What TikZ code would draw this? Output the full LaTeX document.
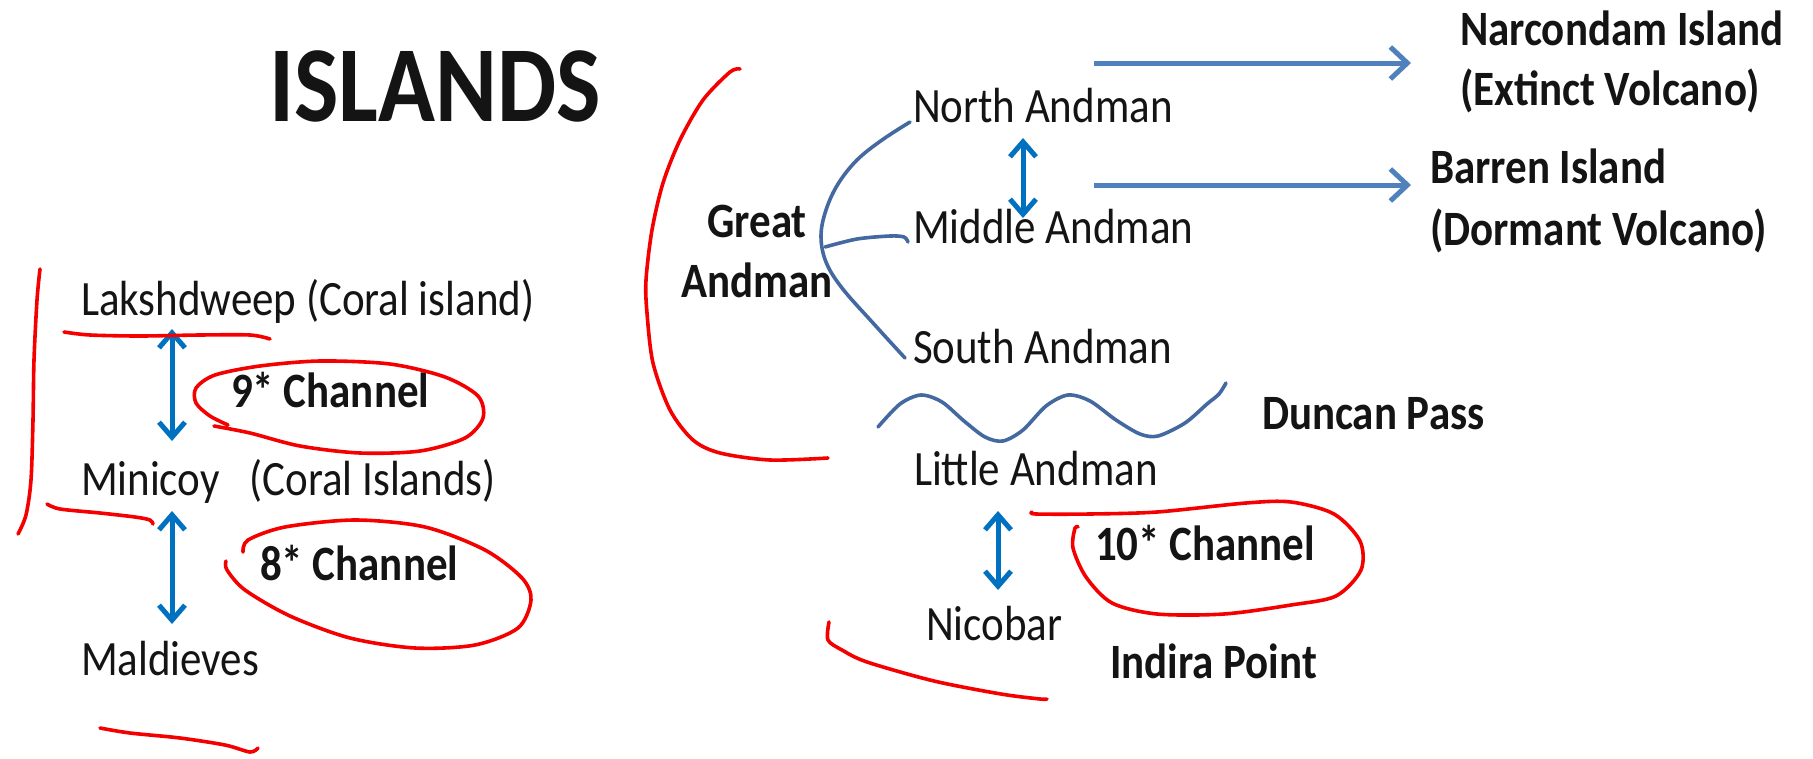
\documentclass[tikz,border=0pt]{standalone}
\usepackage{fontspec}
\setmainfont{Carlito}[FakeStretch=0.87]
\usetikzlibrary{arrows.meta}
\definecolor{arrblue}{RGB}{0,112,192}
\definecolor{treeblue}{RGB}{68,104,160}
\definecolor{volblue}{RGB}{79,129,189}
\definecolor{inkred}{RGB}{245,0,0}
\definecolor{txt}{RGB}{20,20,20}
\begin{document}
\begin{tikzpicture}[x=1pt,y=-1pt,
  lbl/.style={anchor=base west, inner sep=0pt, outer sep=0pt, text=txt, font=\fontsize{49.4}{60}\selectfont},
  blbl/.style={lbl, font=\fontsize{49.4}{61}\selectfont\bfseries},
  dbl/.style={draw=arrblue, line width=5pt, line join=miter, {Straight Barb[length=15pt,width=26pt]}-{Straight Barb[length=15pt,width=26pt]}},
  volarr/.style={draw=volblue, line width=5pt, -{Straight Barb[length=17pt,width=32pt]}},
  tree/.style={draw=treeblue, line width=3.6pt, line cap=round},
  ink/.style={draw=inkred, line width=3.6pt, line cap=round, line join=round}]
\fill[white] (0,0) rectangle (1813,758);
\useasboundingbox (0,0) rectangle (1813,758);

% title
\node[lbl, font=\fontsize{108}{120}\selectfont\bfseries] (title) at (269,121) {ISLANDS};

% left column
\node[lbl] (lak) at (81,315) {Lakshdweep (Coral island)};
\node[blbl] (ch9) at (231,407) {9* Channel};
\node[lbl] (min) at (81,495) {Minicoy\hspace{30pt}(Coral Islands)};
\node[blbl] (ch8) at (260,580) {8* Channel};
\node[lbl] (mal) at (81,675) {Maldieves};

\coordinate (a1t) at (172,329);
\coordinate (a1b) at (172,441);
\coordinate (a2t) at (172,511);
\coordinate (a2b) at (172,624);
\draw[dbl] (a1t) -- (a1b);
\draw[dbl] (a2t) -- (a2b);

% Andaman group (multi-line nodes: base = last line's baseline)
\node[blbl, anchor=base, align=center, font=\fontsize{49.4}{60}\selectfont\bfseries] (great) at (757,297) {Great\\Andman};
\node[lbl] (north) at (913,122) {North Andman};
\node[lbl] (middle) at (913,243) {Middle Andman};
\node[lbl] (south) at (913,363) {South Andman};
\node[blbl, align=left, font=\fontsize{49.4}{60}\selectfont\bfseries] (narc) at (1460,105) {Narcondam Island\\(Extinct Volcano)};
\node[blbl, align=left, font=\fontsize{49.4}{62}\selectfont\bfseries] (barren) at (1430,245) {Barren Island\\(Dormant Volcano)};
\node[blbl] (duncan) at (1262,429) {Duncan Pass};
\node[lbl] (little) at (914,485) {Little Andman};
\node[blbl] (ch10) at (1095,560) {10* Channel};
\node[lbl] (nico) at (926,640) {Nicobar};
\node[blbl] (indira) at (1110,678) {Indira Point};

% tree brace
\draw[tree] plot[smooth, tension=0.6] coordinates {(910,122) (882,140) (857,160) (838,184) (826,210) (821,236) (826,262) (842,288) (873,323) (905,358)};
\draw[tree] plot[smooth] coordinates {(825,247) (857,239) (890,236) (904,237) (908,242)};

% north-middle arrow
\coordinate (a3t) at (1023,138);
\coordinate (a3b) at (1023,218);
\draw[dbl] (a3t) -- (a3b);

% volcano arrows
\coordinate (v1s) at (1094,63);
\coordinate (v1e) at (1411,63);
\coordinate (v2s) at (1094,185);
\coordinate (v2e) at (1411,185);
\draw[volarr] (v1s) -- (v1e);
\draw[volarr] (v2s) -- (v2e);

% Duncan pass wave
\draw[tree] plot[smooth] coordinates {(878,427) (900,404) (921,395) (942,402) (964,421) (985,437) (1003,441) (1023,430) (1046,406) (1068,395) (1090,401) (1116,420) (1140,434) (1158,436) (1185,423) (1207,404) (1219,394) (1226,383)};

% little - nicobar arrow
\coordinate (a4t) at (998,511);
\coordinate (a4b) at (998,590);
\draw[dbl] (a4t) -- (a4b);

% red ink marks
\draw[ink] plot[smooth] coordinates {(40,269) (37,300) (34,360) (33,420) (31,480) (26,515) (18,534)};
\draw[ink] plot[smooth] coordinates {(64,332) (90,335) (140,336) (200,335) (250,335) (270,339)};
\draw[ink] plot[smooth] coordinates {(228,425) (210,416) (196,403) (196,388) (215,375) (260,366) (320,361) (390,364) (445,377) (478,396) (483,418) (465,438) (420,451) (360,453) (300,446) (250,433) (214,426)};
\draw[ink] plot[smooth] coordinates {(47,504) (60,509) (100,513) (135,517) (150,520) (153,524)};
\draw[ink] plot[smooth] coordinates {(243,552) (248,540) (285,527) (355,520) (425,527) (485,550) (522,578) (531,600) (518,628) (475,645) (415,648) (350,638) (290,616) (245,590) (227,570) (226,561)};
\draw[ink] plot[smooth] coordinates {(100,728) (130,733) (180,738) (225,745) (250,752) (258,748)};

\draw[ink] plot[smooth] coordinates {(740,69) (730,72) (703,100) (680,140) (663,183) (652,230) (646,280) (647,313) (653,363) (670,410) (693,440) (720,453) (770,460) (828,458)};
\draw[ink] plot[smooth] coordinates {(1032,512) (1036,514) (1090,514) (1157,512) (1246,503) (1291,502) (1334,514) (1360,541) (1361,570) (1336,596) (1291,605) (1224,614) (1157,614) (1112,603) (1086,577) (1073,548) (1075,528) (1078,527)};
\draw[ink] plot[smooth] coordinates {(829,622) (828,640) (842,650) (867,662) (934,681) (1001,694) (1040,699) (1047,699)};
\end{tikzpicture}
\end{document}
